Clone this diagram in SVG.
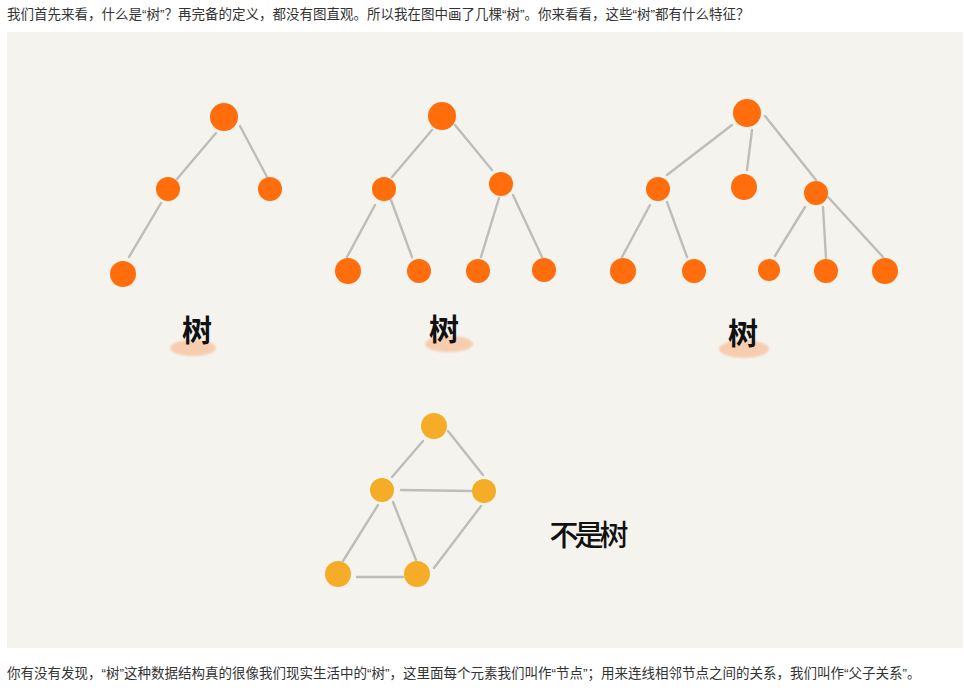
<svg xmlns="http://www.w3.org/2000/svg" width="964" height="691" viewBox="0 0 964 691">
<defs>
<style>
.cap{font-family:"Liberation Sans","Noto Sans CJK SC",sans-serif;font-size:13.5px;fill:#333}
.e{stroke:#bdbdbb;stroke-width:2.4;stroke-linecap:round;fill:none}
.n{fill:#ff6d0c}
.g{fill:#f5ad28}
.lbl{font-family:"Noto Sans CJK SC",sans-serif;font-size:30px;font-weight:700;fill:#111;text-anchor:middle}
.blob{fill:#f7c9a8;opacity:0.9}
</style>
<filter id="soft" x="-20%" y="-50%" width="140%" height="200%"><feGaussianBlur stdDeviation="1.2"/></filter>
</defs>
<rect width="964" height="691" fill="#fff"/>
<text class="cap" x="7" y="19">我们首先来看，什么是“树”？再完备的定义，都没有图直观。所以我在图中画了几棵“树”。你来看看，这些“树”都有什么特征？</text>
<rect x="7" y="32" width="956" height="616" fill="#f5f3ee"/>
<g id="connectors">
<line class="e" x1="216" y1="133" x2="177" y2="179"/>
<line class="e" x1="240" y1="126" x2="267" y2="177"/>
<line class="e" x1="161" y1="203" x2="129" y2="257"/>
<line class="e" x1="432" y1="130" x2="392" y2="177"/>
<line class="e" x1="455" y1="125" x2="492" y2="170"/>
<line class="e" x1="375" y1="205" x2="347" y2="257"/>
<line class="e" x1="391" y1="200" x2="412" y2="257"/>
<line class="e" x1="499" y1="198" x2="481" y2="257"/>
<line class="e" x1="513" y1="195" x2="542" y2="257"/>
<line class="e" x1="732" y1="125" x2="667" y2="175"/>
<line class="e" x1="752" y1="130" x2="747" y2="170"/>
<line class="e" x1="765" y1="116" x2="816" y2="180"/>
<line class="e" x1="650" y1="205" x2="622" y2="257"/>
<line class="e" x1="667" y1="202" x2="687" y2="257"/>
<line class="e" x1="805" y1="207" x2="775" y2="256"/>
<line class="e" x1="823" y1="207" x2="826" y2="258"/>
<line class="e" x1="828" y1="197" x2="883" y2="257"/>
<line class="e" x1="423" y1="441" x2="392" y2="477"/>
<line class="e" x1="448" y1="431" x2="483" y2="475"/>
<line class="e" x1="401" y1="490" x2="472" y2="491"/>
<line class="e" x1="378" y1="505" x2="343" y2="561"/>
<line class="e" x1="393" y1="502" x2="416" y2="560"/>
<line class="e" x1="481" y1="506" x2="434" y2="568"/>
<line class="e" x1="357" y1="577" x2="403" y2="577"/>
</g>
<g id="tree1">
<circle class="n" cx="224" cy="117" r="14"/>
<circle class="n" cx="168" cy="189" r="12"/>
<circle class="n" cx="270" cy="189" r="12"/>
<circle class="n" cx="123" cy="274" r="13"/>
<ellipse class="blob" cx="193" cy="348" rx="23" ry="8" filter="url(#soft)"/>
<text class="lbl" x="197" y="341">树</text>
</g>
<g id="tree2">
<circle class="n" cx="442" cy="116" r="14"/>
<circle class="n" cx="384" cy="189" r="12"/>
<circle class="n" cx="501" cy="184" r="12"/>
<circle class="n" cx="348" cy="271" r="13"/>
<circle class="n" cx="419" cy="271" r="12"/>
<circle class="n" cx="478" cy="271" r="12"/>
<circle class="n" cx="544" cy="270" r="12"/>
<ellipse class="blob" cx="449" cy="344" rx="24" ry="8" filter="url(#soft)"/>
<text class="lbl" x="444" y="340">树</text>
</g>
<g id="tree3">
<circle class="n" cx="747" cy="113" r="14"/>
<circle class="n" cx="658" cy="189" r="12"/>
<circle class="n" cx="744" cy="187" r="13"/>
<circle class="n" cx="816" cy="193" r="12"/>
<circle class="n" cx="623" cy="271" r="13"/>
<circle class="n" cx="694" cy="271" r="12"/>
<circle class="n" cx="769" cy="270" r="11"/>
<circle class="n" cx="826" cy="271" r="12"/>
<circle class="n" cx="885" cy="271" r="13"/>
<ellipse class="blob" cx="744" cy="349" rx="25" ry="9" filter="url(#soft)"/>
<text class="lbl" x="743" y="344">树</text>
</g>
<g id="graph">
<circle class="g" cx="434" cy="426" r="13"/>
<circle class="g" cx="382" cy="490" r="12"/>
<circle class="g" cx="484" cy="491" r="12"/>
<circle class="g" cx="338" cy="574" r="13"/>
<circle class="g" cx="417" cy="574" r="13"/>
<text class="lbl" x="587" y="546" style="font-weight:500;font-size:29px;letter-spacing:-4px">不是树</text>
</g>
<text class="cap" x="7" y="678">你有没有发现，“树”这种数据结构真的很像我们现实生活中的“树”，这里面每个元素我们叫作“节点”；用来连线相邻节点之间的关系，我们叫作“父子关系”。</text>
</svg>
